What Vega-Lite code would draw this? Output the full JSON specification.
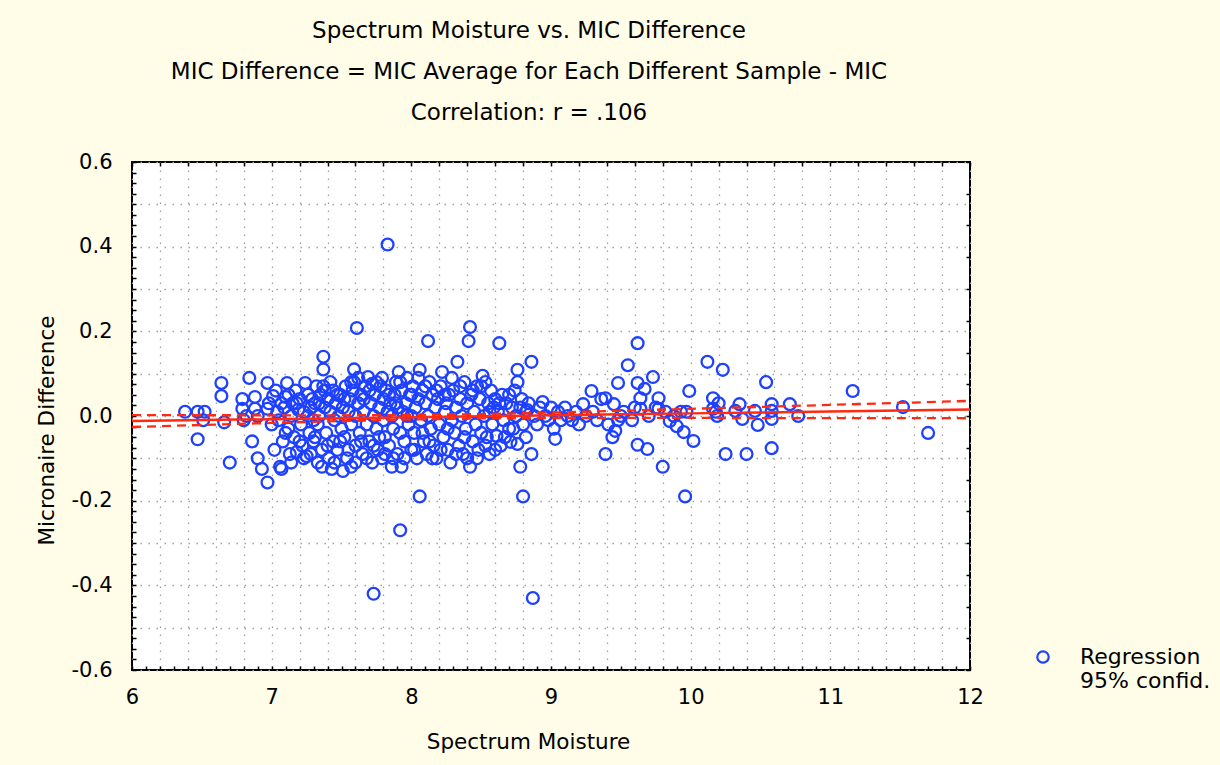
{
  "$schema": "https://vega.github.io/schema/vega-lite/v6.json",
  "width": 838,
  "height": 508,
  "autosize": {"type": "none"},
  "padding": {"left": 132, "top": 162, "right": 250, "bottom": 95},
  "background": "#fffde7",
  "config": {
    "view": {"fill": "white", "stroke": "black", "strokeWidth": 2},
    "font": "DejaVu Sans",
    "axis": {"domain": false, "labelFont": "DejaVu Sans", "titleFont": "DejaVu Sans", "labelFontSize": 21, "titleFontSize": 21.5, "titleFontWeight": "normal", "labelColor": "black", "titleColor": "black", "tickColor": "black"}
  },
  "title": {
    "text": ["Spectrum Moisture vs. MIC Difference", "MIC Difference = MIC Average for Each Different Sample - MIC", "Correlation: r = .106"],
    "font": "DejaVu Sans",
    "fontSize": 23,
    "fontWeight": "normal",
    "color": "black",
    "lineHeight": 41,
    "anchor": "middle",
    "offset": 26,
    "dx": -22
  },
  "datasets": {
    "pts": [
      {"m":6.38,"d":0.01},{"m":6.47,"d":0.01},{"m":6.52,"d":0.01},{"m":6.51,"d":-0.01},{"m":6.47,"d":-0.055},
      {"m":6.64,"d":0.078},{"m":6.64,"d":0.047},{"m":6.66,"d":-0.015},{"m":6.7,"d":-0.11},{"m":6.79,"d":0.04},
      {"m":6.79,"d":0.017},{"m":6.8,"d":-0.01},{"m":6.82,"d":0.0},{"m":6.84,"d":0.09},{"m":6.86,"d":-0.06},
      {"m":6.88,"d":0.045},{"m":6.88,"d":0.017},{"m":6.9,"d":-0.1},{"m":6.9,"d":0.0},{"m":6.93,"d":-0.125},
      {"m":6.97,"d":-0.157},{"m":6.97,"d":0.078},{"m":6.97,"d":0.017},{"m":6.98,"d":0.03},{"m":7.0,"d":-0.02},
      {"m":7.01,"d":0.047},{"m":7.03,"d":0.06},{"m":7.05,"d":-0.01},{"m":7.06,"d":-0.12},{"m":7.07,"d":-0.125},
      {"m":7.08,"d":-0.06},{"m":7.09,"d":0.02},{"m":7.1,"d":0.045},{"m":7.11,"d":0.078},{"m":7.12,"d":-0.03},
      {"m":7.13,"d":-0.09},{"m":7.14,"d":0.0},{"m":7.15,"d":0.03},{"m":7.16,"d":-0.05},{"m":7.17,"d":0.06},
      {"m":7.18,"d":-0.085},{"m":7.19,"d":0.015},{"m":7.2,"d":0.04},{"m":7.21,"d":-0.02},{"m":7.22,"d":-0.07},
      {"m":7.23,"d":0.01},{"m":7.24,"d":0.078},{"m":7.25,"d":-0.095},{"m":7.26,"d":0.05},{"m":7.27,"d":-0.04},
      {"m":7.28,"d":0.02},{"m":7.29,"d":0.04},{"m":7.3,"d":-0.01},{"m":7.3,"d":-0.06},
      {"m":7.31,"d":0.03},{"m":7.32,"d":0.07},{"m":7.33,"d":-0.11},{"m":7.33,"d":-0.02},{"m":7.34,"d":0.0},
      {"m":7.35,"d":0.05},{"m":7.36,"d":-0.08},{"m":7.37,"d":0.14},{"m":7.37,"d":0.11},{"m":7.37,"d":0.07},
      {"m":7.38,"d":0.02},{"m":7.39,"d":-0.04},{"m":7.4,"d":0.04},{"m":7.41,"d":-0.1},{"m":7.42,"d":0.01},
      {"m":7.43,"d":-0.125},{"m":7.44,"d":0.06},{"m":7.44,"d":-0.06},{"m":7.45,"d":-0.01},{"m":7.46,"d":0.03},
      {"m":7.47,"d":-0.08},{"m":7.48,"d":0.0},{"m":7.49,"d":0.05},{"m":7.5,"d":-0.03},{"m":7.51,"d":-0.13},
      {"m":7.51,"d":0.02},{"m":7.52,"d":-0.05},{"m":7.53,"d":0.07},{"m":7.54,"d":-0.1},{"m":7.55,"d":0.01},
      {"m":7.56,"d":0.04},{"m":7.57,"d":-0.12},{"m":7.57,"d":-0.02},{"m":7.58,"d":0.06},{"m":7.59,"d":0.11},
      {"m":7.59,"d":0.08},{"m":7.6,"d":-0.07},{"m":7.6,"d":0.0},
      {"m":7.61,"d":0.208},{"m":7.62,"d":0.03},{"m":7.63,"d":-0.04},{"m":7.64,"d":0.05},{"m":7.65,"d":-0.09},
      {"m":7.66,"d":0.01},{"m":7.67,"d":0.07},{"m":7.68,"d":-0.02},{"m":7.69,"d":0.092},{"m":7.7,"d":-0.06},
      {"m":7.71,"d":0.03},{"m":7.72,"d":0.076},{"m":7.72,"d":-0.11},{"m":7.73,"d":-0.42},{"m":7.73,"d":0.0},
      {"m":7.74,"d":0.05},{"m":7.75,"d":-0.03},{"m":7.76,"d":-0.08},{"m":7.77,"d":0.02},{"m":7.78,"d":0.07},
      {"m":7.79,"d":-0.1},{"m":7.8,"d":0.04},{"m":7.8,"d":-0.01},{"m":7.81,"d":-0.05},{"m":7.82,"d":0.06},
      {"m":7.83,"d":0.405},{"m":7.83,"d":0.01},{"m":7.84,"d":-0.07},{"m":7.85,"d":0.03},{"m":7.86,"d":-0.12},
      {"m":7.86,"d":0.0},{"m":7.87,"d":-0.03},{"m":7.88,"d":0.05},{"m":7.89,"d":0.08},{"m":7.9,"d":-0.09},
      {"m":7.9,"d":0.02},
      {"m":7.91,"d":0.104},{"m":7.92,"d":-0.27},{"m":7.92,"d":-0.04},{"m":7.93,"d":-0.12},{"m":7.93,"d":0.06},
      {"m":7.94,"d":0.01},{"m":7.95,"d":-0.06},{"m":7.96,"d":0.03},{"m":7.97,"d":0.09},{"m":7.98,"d":-0.02},
      {"m":7.99,"d":0.05},{"m":8.0,"d":-0.08},{"m":8.0,"d":0.0},{"m":8.01,"d":0.07},{"m":8.02,"d":-0.04},
      {"m":8.03,"d":0.02},{"m":8.04,"d":-0.1},{"m":8.05,"d":0.04},{"m":8.06,"d":-0.19},{"m":8.06,"d":0.109},
      {"m":8.07,"d":-0.01},{"m":8.08,"d":0.06},{"m":8.09,"d":-0.06},{"m":8.1,"d":0.03},{"m":8.11,"d":-0.09},
      {"m":8.12,"d":0.177},{"m":8.12,"d":0.0},{"m":8.13,"d":0.08},{"m":8.14,"d":-0.03},{"m":8.15,"d":0.05},
      {"m":8.16,"d":-0.07},{"m":8.17,"d":0.02},{"m":8.18,"d":-0.1},{"m":8.19,"d":0.04},{"m":8.2,"d":-0.02},
      {"m":8.21,"d":0.07},{"m":8.22,"d":0.104},{"m":8.23,"d":-0.05},{"m":8.24,"d":0.01},{"m":8.25,"d":0.03},
      {"m":8.26,"d":-0.08},{"m":8.27,"d":0.05},{"m":8.28,"d":-0.11},{"m":8.29,"d":-0.01},{"m":8.3,"d":0.06},
      {"m":8.31,"d":-0.04},{"m":8.32,"d":0.02},{"m":8.33,"d":0.128},{"m":8.34,"d":-0.07},{"m":8.35,"d":0.04},
      {"m":8.36,"d":0.0},{"m":8.37,"d":-0.09},{"m":8.38,"d":0.08},{"m":8.39,"d":-0.03},{"m":8.4,"d":0.03},
      {"m":8.41,"d":0.177},{"m":8.42,"d":0.21},{"m":8.42,"d":-0.12},{"m":8.43,"d":0.05},{"m":8.44,"d":-0.06},
      {"m":8.45,"d":0.01},{"m":8.46,"d":-0.02},{"m":8.47,"d":0.07},{"m":8.48,"d":-0.08},{"m":8.49,"d":0.04},
      {"m":8.5,"d":-0.04},
      {"m":8.51,"d":0.095},{"m":8.52,"d":0.0},{"m":8.53,"d":0.08},{"m":8.54,"d":-0.05},{"m":8.55,"d":0.03},
      {"m":8.56,"d":-0.09},{"m":8.57,"d":0.06},{"m":8.58,"d":-0.02},{"m":8.59,"d":0.02},{"m":8.6,"d":0.04},
      {"m":8.61,"d":-0.047},{"m":8.62,"d":0.01},{"m":8.63,"d":0.172},{"m":8.64,"d":-0.07},{"m":8.65,"d":0.05},
      {"m":8.66,"d":-0.01},{"m":8.68,"d":0.03},{"m":8.7,"d":-0.03},{"m":8.71,"d":-0.061},{"m":8.72,"d":0.02},
      {"m":8.74,"d":0.06},{"m":8.75,"d":0.0},{"m":8.76,"d":0.109},{"m":8.76,"d":0.08},{"m":8.76,"d":-0.066},
      {"m":8.78,"d":-0.12},{"m":8.79,"d":0.04},{"m":8.8,"d":-0.19},{"m":8.8,"d":-0.02},{"m":8.82,"d":0.01},
      {"m":8.83,"d":0.014},{"m":8.84,"d":0.03},{"m":8.86,"d":0.128},{"m":8.86,"d":-0.09},{"m":8.87,"d":-0.43},
      {"m":8.88,"d":0.0},
      {"m":7.02,"d":-0.08},{"m":7.04,"d":0.01},{"m":7.07,"d":0.03},{"m":7.1,"d":-0.04},{"m":7.12,"d":0.05},
      {"m":7.14,"d":-0.11},{"m":7.18,"d":0.03},{"m":7.2,"d":-0.06},{"m":7.23,"d":-0.1},{"m":7.26,"d":0.0},
      {"m":7.28,"d":-0.09},{"m":7.31,"d":-0.05},{"m":7.34,"d":0.03},{"m":7.36,"d":-0.12},{"m":7.38,"d":0.06},
      {"m":7.4,"d":-0.07},{"m":7.42,"d":0.08},{"m":7.45,"d":-0.11},{"m":7.47,"d":0.05},{"m":7.49,"d":-0.06},
      {"m":7.52,"d":0.04},{"m":7.55,"d":-0.08},{"m":7.57,"d":0.08},{"m":7.6,"d":-0.11},{"m":7.62,"d":0.09},
      {"m":7.64,"d":-0.06},{"m":7.66,"d":0.04},{"m":7.68,"d":-0.1},{"m":7.7,"d":0.06},{"m":7.73,"d":-0.07},
      {"m":7.75,"d":0.08},{"m":7.77,"d":-0.05},{"m":7.79,"d":0.09},{"m":7.81,"d":-0.09},{"m":7.84,"d":0.05},
      {"m":7.87,"d":-0.1},{"m":7.89,"d":0.03},{"m":7.92,"d":0.08},{"m":7.95,"d":-0.1},{"m":7.97,"d":0.0},
      {"m":8.0,"d":0.05},{"m":8.02,"d":-0.08},{"m":8.05,"d":0.09},{"m":8.08,"d":-0.04},{"m":8.1,"d":0.07},
      {"m":8.13,"d":-0.06},{"m":8.15,"d":-0.1},{"m":8.18,"d":0.06},{"m":8.21,"d":-0.08},{"m":8.24,"d":0.05},
      {"m":8.26,"d":-0.03},{"m":8.29,"d":0.09},{"m":8.32,"d":-0.09},{"m":8.35,"d":0.07},{"m":8.38,"d":-0.05},
      {"m":8.4,"d":-0.1},{"m":8.44,"d":0.06},{"m":8.47,"d":-0.1},{"m":8.5,"d":0.07},{"m":8.53,"d":-0.07},
      {"m":8.56,"d":0.01},{"m":8.6,"d":-0.08},{"m":8.63,"d":0.03},{"m":8.67,"d":-0.05},{"m":8.7,"d":0.05},
      {"m":8.73,"d":-0.03},{"m":8.78,"d":0.02},{"m":8.82,"d":-0.05},
      {"m":8.9,"d":-0.02},{"m":8.92,"d":0.02},{"m":8.94,"d":0.033},{"m":8.96,"d":0.0},{"m":8.98,"d":-0.01},
      {"m":9.0,"d":0.02},{"m":9.02,"d":-0.03},{"m":9.03,"d":-0.054},{"m":9.05,"d":0.01},{"m":9.07,"d":-0.01},
      {"m":9.1,"d":0.02},{"m":9.12,"d":0.0},{"m":9.15,"d":-0.01},{"m":9.18,"d":0.01},{"m":9.2,"d":-0.02},
      {"m":9.23,"d":0.028},{"m":9.25,"d":0.0},{"m":9.29,"d":0.059},{"m":9.3,"d":0.01},{"m":9.33,"d":-0.01},
      {"m":9.36,"d":0.04},{"m":9.39,"d":0.042},{"m":9.39,"d":-0.09},{"m":9.41,"d":-0.02},{"m":9.44,"d":-0.05},
      {"m":9.45,"d":0.028},{"m":9.46,"d":-0.035},{"m":9.48,"d":0.078},{"m":9.48,"d":-0.01},{"m":9.5,"d":0.0},
      {"m":9.52,"d":0.01},{"m":9.55,"d":0.12},{"m":9.58,"d":-0.01},{"m":9.6,"d":0.02},{"m":9.62,"d":0.172},
      {"m":9.62,"d":0.078},{"m":9.62,"d":-0.068},{"m":9.64,"d":0.042},{"m":9.64,"d":0.017},{"m":9.67,"d":0.064},
      {"m":9.69,"d":-0.078},{"m":9.7,"d":0.0},{"m":9.73,"d":0.092},{"m":9.75,"d":0.02},{"m":9.77,"d":0.042},
      {"m":9.77,"d":0.017},{"m":9.8,"d":-0.12},{"m":9.82,"d":0.01},{"m":9.85,"d":-0.012},{"m":9.88,"d":0.0},
      {"m":9.9,"d":-0.024},{"m":9.93,"d":0.01},{"m":9.95,"d":-0.038},{"m":9.96,"d":-0.19},{"m":9.97,"d":0.01},
      {"m":9.99,"d":0.059},{"m":10.02,"d":-0.059},{"m":10.12,"d":0.128},{"m":10.16,"d":0.042},{"m":10.16,"d":0.017},
      {"m":10.18,"d":0.01},{"m":10.19,"d":0.0},{"m":10.2,"d":0.03},
      {"m":10.23,"d":0.109},{"m":10.25,"d":-0.09},{"m":10.32,"d":0.012},{"m":10.35,"d":0.028},{"m":10.37,"d":-0.007},
      {"m":10.4,"d":-0.09},{"m":10.46,"d":0.012},{"m":10.48,"d":-0.021},{"m":10.54,"d":0.08},{"m":10.58,"d":0.028},
      {"m":10.58,"d":0.012},{"m":10.58,"d":-0.007},{"m":10.58,"d":-0.076},{"m":10.71,"d":0.028},{"m":10.77,"d":0.0},
      {"m":11.16,"d":0.059},{"m":11.52,"d":0.021},{"m":11.7,"d":-0.04}
    ],
    "fit": [
      {"x":6,"fit":-0.012,"lo":-0.026,"hi":0.002},
      {"x":6.5,"fit":-0.0097,"lo":-0.0212,"hi":0.0018},
      {"x":7,"fit":-0.0074,"lo":-0.0164,"hi":0.0016},
      {"x":7.5,"fit":-0.0051,"lo":-0.0119,"hi":0.0017},
      {"x":8,"fit":-0.0029,"lo":-0.0082,"hi":0.0024},
      {"x":8.5,"fit":-0.0006,"lo":-0.0058,"hi":0.0046},
      {"x":9,"fit":0.0017,"lo":-0.0048,"hi":0.0082},
      {"x":9.5,"fit":0.0039,"lo":-0.0046,"hi":0.0124},
      {"x":10,"fit":0.0062,"lo":-0.0046,"hi":0.017},
      {"x":10.5,"fit":0.0084,"lo":-0.0048,"hi":0.0216},
      {"x":11,"fit":0.0107,"lo":-0.0049,"hi":0.0263},
      {"x":11.5,"fit":0.013,"lo":-0.005,"hi":0.031},
      {"x":12,"fit":0.0152,"lo":-0.0053,"hi":0.0357}
    ]
  },
  "resolve": {"axis": {"x": "independent", "y": "independent"}},
  "layer": [
    {
      "data": {"name": "pts"},
      "mark": {"type": "point", "shape": "circle", "filled": false, "size": 140, "strokeWidth": 2.3, "opacity": 1},
      "encoding": {
        "x": {
          "field": "m", "type": "quantitative",
          "scale": {"domain": [6, 12], "nice": false, "zero": false},
          "axis": {
            "orient": "bottom",
            "title": "Spectrum Moisture",
            "titleX": 396,
            "values": [6,6.1,6.2,6.3,6.4,6.5,6.6,6.7,6.8,6.9,7,7.1,7.2,7.3,7.4,7.5,7.6,7.7,7.8,7.9,8,8.1,8.2,8.3,8.4,8.5,8.6,8.7,8.8,8.9,9,9.1,9.2,9.3,9.4,9.5,9.6,9.7,9.8,9.9,10,10.1,10.2,10.3,10.4,10.5,10.6,10.7,10.8,10.9,11,11.1,11.2,11.3,11.4,11.5,11.6,11.7,11.8,11.9,12],
            "labelExpr": "abs(datum.value - round(datum.value)) < 0.001 ? format(datum.value, 'd') : ''",
            "labelOverlap": false,
            "labelFlush": false,
            "labelPadding": 20,
            "tickSize": -4,
            "tickWidth": 1.5,
            "grid": true,
            "gridColor": "#a0a0a0",
            "gridDash": [1.5, 6.5],
            "gridWidth": 1.3,
            "gridOpacity": {"condition": {"test": "abs(datum.value*5 - round(datum.value*5)) < 0.001", "value": 1}, "value": 0},
            "titlePadding": 24
          }
        },
        "y": {
          "field": "d", "type": "quantitative",
          "scale": {"domain": [-0.6, 0.6], "nice": false, "zero": false},
          "axis": {
            "orient": "left",
            "title": "Micronaire Difference",
            "titleY": 268,
            "values": [-0.6,-0.575,-0.55,-0.525,-0.5,-0.475,-0.45,-0.425,-0.4,-0.375,-0.35,-0.325,-0.3,-0.275,-0.25,-0.225,-0.2,-0.175,-0.15,-0.125,-0.1,-0.075,-0.05,-0.025,0,0.025,0.05,0.075,0.1,0.125,0.15,0.175,0.2,0.225,0.25,0.275,0.3,0.325,0.35,0.375,0.4,0.425,0.45,0.475,0.5,0.525,0.55,0.575,0.6],
            "labelExpr": "abs(datum.value*5 - round(datum.value*5)) < 0.001 ? replace(format(datum.value, '.1f'), '\u2212', '-') : ''",
            "labelOverlap": false,
            "labelFlush": false,
            "labelPadding": 24,
            "tickSize": -4,
            "tickWidth": 1.5,
            "grid": true,
            "gridColor": "#a0a0a0",
            "gridDash": [1.5, 6.5],
            "gridWidth": 1.3,
            "gridOpacity": {"condition": {"test": "abs(datum.value*10 - round(datum.value*10)) < 0.001", "value": 1}, "value": 0},
            "titlePadding": 13
          }
        },
        "color": {
          "datum": "Regression",
          "type": "nominal",
          "scale": {"range": ["#1e40ff"]},
          "legend": {
            "title": null,
            "orient": "none",
            "legendX": 900,
            "legendY": 484,
            "symbolType": "circle",
            "symbolSize": 130,
            "symbolStrokeWidth": 2.2,
            "symbolFillColor": "transparent",
            "labelFont": "DejaVu Sans",
            "labelFontSize": 22,
            "labelColor": "black",
            "labelLimit": 300,
            "labelOffset": 26,
            "labelExpr": "['Regression', '95% confid.']"
          }
        }
      }
    },
    {
      "data": {"name": "fit"},
      "mark": {"type": "line", "color": "#ff2a10", "strokeWidth": 2.5},
      "encoding": {
        "x": {
          "field": "x", "type": "quantitative",
          "axis": {
            "orient": "top", "title": null, "labels": false, "grid": false,
            "values": [6,6.2,6.4,6.6,6.8,7,7.2,7.4,7.6,7.8,8,8.2,8.4,8.6,8.8,9,9.2,9.4,9.6,9.8,10,10.2,10.4,10.6,10.8,11,11.2,11.4,11.6,11.8,12],
            "tickSize": -4, "tickWidth": 1.5
          }
        },
        "y": {
          "field": "fit", "type": "quantitative",
          "axis": {
            "orient": "right", "title": null, "labels": false, "grid": false,
            "values": [-0.6,-0.525,-0.45,-0.375,-0.3,-0.225,-0.15,-0.075,0,0.075,0.15,0.225,0.3,0.375,0.45,0.525,0.6],
            "tickSize": -4, "tickWidth": 1.5
          }
        }
      }
    },
    {
      "data": {"name": "fit"},
      "mark": {"type": "line", "color": "#ff2a10", "strokeWidth": 2.3, "strokeDash": [9, 6]},
      "encoding": {
        "x": {"field": "x", "type": "quantitative", "axis": null},
        "y": {"field": "lo", "type": "quantitative", "axis": null}
      }
    },
    {
      "data": {"name": "fit"},
      "mark": {"type": "line", "color": "#ff2a10", "strokeWidth": 2.3, "strokeDash": [9, 6]},
      "encoding": {
        "x": {"field": "x", "type": "quantitative", "axis": null},
        "y": {"field": "hi", "type": "quantitative", "axis": null}
      }
    }
  ]
}
